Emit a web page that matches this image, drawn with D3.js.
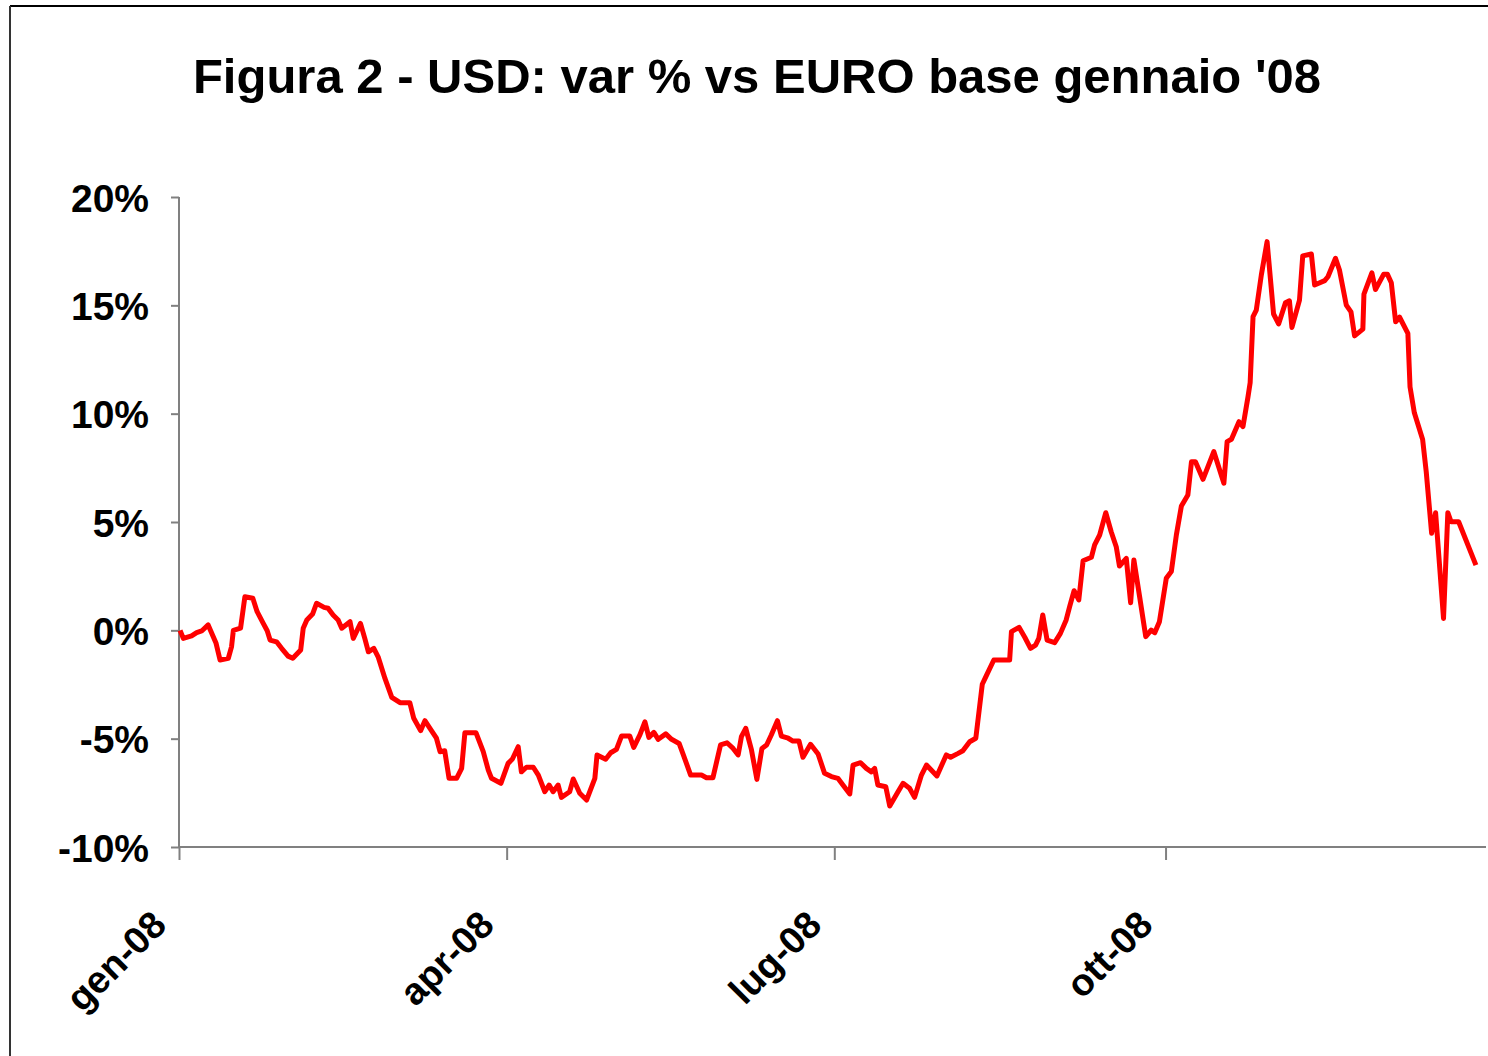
<!DOCTYPE html>
<html>
<head>
<meta charset="utf-8">
<script src="https://cdn.jsdelivr.net/npm/d3@7"></script>
<style>
  html, body { margin: 0; padding: 0; background: #fff; }
  svg { display: block; font-family: Arial, "Liberation Sans", sans-serif; }
</style>
</head>
<body>
<svg id="chart" width="1488" height="1056"></svg>
<script>
const title = "Figura 2 - USD: var % vs EURO base gennaio '08"

// days since 1 Jan 2008
const days = [
  0.3, 1.2, 3.5, 4.9, 6.3, 8.1, 10.3, 11.4, 13.7, 14.6, 15.1, 17.1, 18.3, 20.5, 21.7,
  23.4, 24.5, 25.3, 27.1, 28.5, 30.3, 31.6, 33.8, 34.5, 35.5, 37.1, 38.2, 40.3, 41.4,
  42.8, 44.2, 45.2, 47.5, 48.4, 50.4, 51.6, 52.6, 54.1, 55.3, 57.2, 59.1, 61.4, 64.1,
  65.2, 67.1, 68.3, 69.7, 71.5, 72.5, 73.8, 75.0, 77.1, 78.5, 79.4, 82.5, 84.5, 85.9,
  86.8, 89.4, 91.4, 92.6, 94.2, 95.1, 96.5, 98.4, 99.8, 101.6, 102.8, 103.9, 105.3,
  106.2, 108.5, 109.5, 111.3, 113.2, 115.5, 116.1, 118.5, 119.9, 121.5, 122.9, 125.2,
  126.3, 128.0, 129.4, 130.5, 131.9, 133.1, 135.2, 136.8, 138.9, 140.0, 142.1, 145.1,
  146.5, 148.3, 150.4, 152.2, 153.9, 155.3, 156.2, 157.4, 159.0, 160.5, 161.9, 163.2,
  164.5, 166.2, 167.3, 169.2, 170.5, 172.2, 173.3, 175.4, 177.5, 179.3, 181.2, 183.0,
  184.4, 186.3, 187.2, 189.3, 190.9, 192.3, 193.2, 194.1, 196.3, 197.4, 199.7, 201.1,
  202.9, 204.3, 206.2, 207.6, 210.5, 213.1, 214.3, 216.4, 217.7, 219.6, 221.3, 223.1,
  224.2, 226.3, 230.7, 231.2, 233.3, 234.9, 236.5, 237.9, 238.8, 239.9, 241.1, 243.2,
  244.8, 246.4, 247.4, 248.6, 249.9, 251.1, 253.4, 254.3, 255.7, 257.4, 258.9, 260.3,
  261.2, 263.1, 264.3, 265.2, 266.8, 268.5, 270.0, 271.0, 272.3, 274.2, 275.6, 277.0,
  278.4, 280.2, 281.2, 282.3, 284.4, 287.4, 290.2, 291.1, 292.3, 294.4, 295.5, 296.9,
  297.5, 298.3, 299.2, 300.6, 302.2, 304.0, 305.4, 307.3, 308.4, 309.1, 311.2, 312.1,
  314.5, 315.4, 318.2, 319.1, 321.2, 322.3, 324.2, 325.5, 326.5, 328.8, 329.1, 331.3,
  332.3, 334.6, 335.6, 336.7, 337.9, 339.0, 341.3, 341.9, 343.1, 345.4, 346.4, 347.9,
  349.0, 351.2, 352.4, 353.3, 355.4, 360.2
]

// % change of USD vs EURO
const values = [
  0.0, -0.37, -0.26, -0.11, -0.03, 0.25, -0.6, -1.37, -1.29, -0.75, 0.0, 0.1, 1.55, 1.48, 0.86,
  0.32, -0.02, -0.45, -0.53, -0.83, -1.19, -1.29, -0.91, 0.1, 0.48, 0.75, 1.25, 1.06, 1.02,
  0.71, 0.48, 0.1, 0.4, -0.37, 0.32, -0.37, -0.99, -0.83, -1.22, -2.22, -3.09, -3.34, -3.34,
  -4.06, -4.63, -4.17, -4.52, -4.98, -5.6, -5.56, -6.83, -6.83, -6.37, -4.73, -4.73, -5.6, -6.45,
  -6.83, -7.06, -6.14, -5.94, -5.37, -6.53, -6.32, -6.32, -6.68, -7.45, -7.14, -7.45, -7.14,
  -7.71, -7.45, -6.86, -7.52, -7.83, -6.83, -5.75, -5.95, -5.65, -5.49, -4.88, -4.88,
  -5.4, -4.83, -4.22, -4.94, -4.71, -5.03, -4.78, -5.03, -5.22, -5.71, -6.68, -6.68,
  -6.8, -6.8, -5.29, -5.19, -5.45, -5.75, -4.91, -4.52, -5.52, -6.88, -5.45, -5.29,
  -4.83, -4.17, -4.88, -4.98, -5.11, -5.11, -5.86, -5.26, -5.71, -6.6, -6.75, -6.83,
  -7.14, -7.55, -6.22, -6.11, -6.37, -6.53, -6.37, -7.14, -7.22, -8.11, -7.45, -7.06,
  -7.29, -7.71, -6.68, -6.22, -6.72, -5.75, -5.86, -5.68, -5.56, -5.14, -4.98, -2.49,
  -2.1, -1.37, -1.37, -0.06, 0.14, -0.32, -0.83, -0.68, -0.37, 0.71, -0.45, -0.57,
  -0.14, 0.48, 1.12, 1.83, 1.4, 3.21, 3.37, 3.94, 4.4, 5.43, 4.55, 3.86,
  2.97, 3.32, 1.27, 3.25, 1.55, -0.29, 0.01, -0.11, 0.4, 2.4, 2.71, 4.4,
  5.74, 6.25, 7.78, 7.78, 6.97, 8.25, 6.79, 8.71, 8.82, 9.63, 9.4, 10.78,
  11.43, 14.48, 14.78, 16.4, 17.94, 14.6, 14.14, 15.12, 15.21, 13.98, 15.24, 17.28,
  17.37, 15.94, 16.14, 16.32, 17.17, 16.63, 15.01, 14.7, 13.59, 13.9, 15.52, 16.5,
  15.73, 16.44, 16.44, 16.04, 14.24, 14.45, 13.71, 11.24, 10.04, 8.81, 7.32, 4.48,
  5.43, 0.55, 5.43, 5.01, 5.01, 3.01
]

const yTicks = [-10, -5, 0, 5, 10, 15, 20]
const xTickDates = ['2008-01-01', '2008-04-01', '2008-07-01', '2008-10-01']
const xTickLabels = ['gen-08', 'apr-08', 'lug-08', 'ott-08']

const svg = d3.select('#chart')
const start = new Date(2008, 0, 1)
const toDate = d => new Date(start.getTime() + d * 864e5)

const x = d3.scaleTime()
  .domain([start, toDate(363)])
  .range([179, 1486])

const y = d3.scaleLinear()
  .domain([-10, 20])
  .range([847, 197])

// frame (only top and left edges fall inside the picture)
svg.append('line')
  .attr('x1', 10).attr('x2', 1488).attr('y1', 6).attr('y2', 6)
  .attr('stroke', '#000').attr('stroke-width', 2)
svg.append('line')
  .attr('x1', 10).attr('x2', 10).attr('y1', 6).attr('y2', 1056)
  .attr('stroke', '#333').attr('stroke-width', 2)

svg.append('text')
  .attr('x', 757)
  .attr('y', 93)
  .attr('text-anchor', 'middle')
  .attr('font-size', 49)
  .attr('font-weight', 'bold')
  .text(title)

// y axis
const yAxis = svg.append('g')
  .attr('transform', 'translate(179,0)')
  .call(d3.axisLeft(y).tickValues(yTicks).tickSize(8).tickPadding(22)
    .tickFormat(d => d + '%'))
yAxis.select('.domain').attr('stroke', '#808080').attr('stroke-width', 2)
  .attr('d', `M0,${y(20)}V${y(-10)}`)
yAxis.selectAll('.tick line').attr('stroke', '#808080').attr('stroke-width', 2)
yAxis.selectAll('.tick text')
  .attr('font-size', 39)
  .attr('font-weight', 'bold')
  .attr('font-family', 'Arial, "Liberation Sans", sans-serif')
  .attr('fill', '#000')
  .attr('dy', '0.36em')

// x axis
const xAxis = svg.append('g')
  .attr('transform', `translate(0,${y(-10)})`)
  .call(d3.axisBottom(x)
    .tickValues(xTickDates.map(s => d3.timeParse('%Y-%m-%d')(s)))
    .tickSize(13)
    .tickFormat((d, i) => xTickLabels[i]))
xAxis.select('.domain').attr('stroke', '#808080').attr('stroke-width', 2)
  .attr('d', `M${x.range()[0]},0H${x.range()[1]}`)
xAxis.selectAll('.tick line').attr('stroke', '#808080').attr('stroke-width', 2)
xAxis.selectAll('.tick text')
  .attr('font-size', 38)
  .attr('font-weight', 'bold')
  .attr('font-family', 'Arial, "Liberation Sans", sans-serif')
  .attr('fill', '#000')
  .attr('text-anchor', 'end')
  .attr('dy', null)
  .attr('y', null)
  .attr('transform', 'translate(-11,80) rotate(-45)')

// series
const series = days.map((d, i) => ({ date: toDate(d), value: values[i] }))

svg.append('path')
  .datum(series)
  .attr('fill', 'none')
  .attr('stroke', '#ff0000')
  .attr('stroke-width', 5)
  .attr('stroke-linejoin', 'round')
  .attr('d', d3.line().x(d => x(d.date)).y(d => y(d.value)))
</script>
</body>
</html>
